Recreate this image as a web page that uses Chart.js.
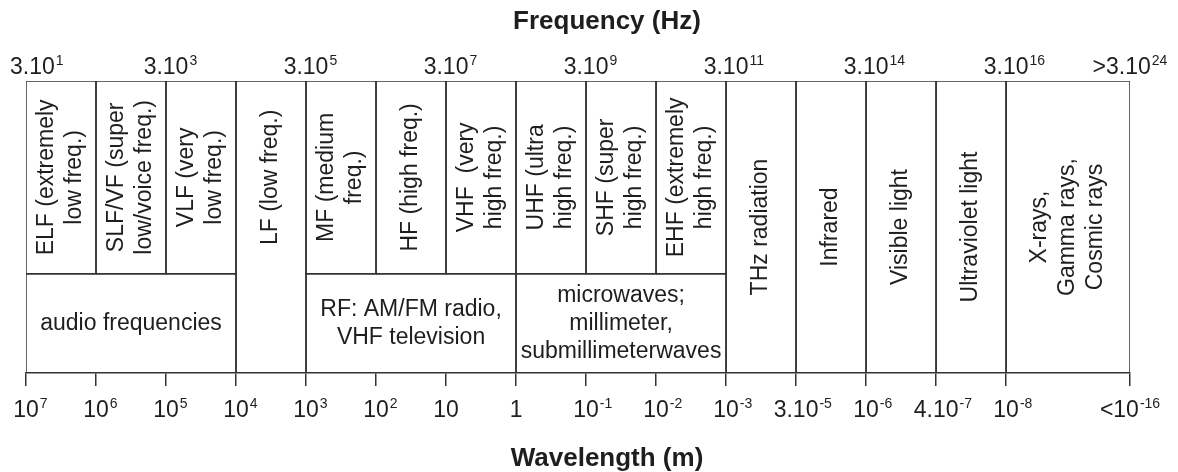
<!DOCTYPE html>
<html>
<head>
<meta charset="utf-8">
<title>Electromagnetic spectrum</title>
<script src="https://cdn.jsdelivr.net/npm/chart.js@4.4.1/dist/chart.umd.min.js"></script>
<style>
  html,body{margin:0;padding:0;background:#fff}
  canvas{display:block}
</style>
</head>
<body>
<canvas id="chart" width="1178" height="472"></canvas>
<script>
'use strict';

// band edges on the schematic axis: one step per band, the last band is wider
const edges = [0,1,2,3,4,5,6,7,8,9,10,11,12,13,14,15.77];

// frequency labels (top) sit on these edges
const freqEdges  = [0,2,4,6,8,10,12,14,15];
const freqLabels = ['3.10^1','3.10^3','3.10^5','3.10^7','3.10^9','3.10^11','3.10^14','3.10^16','>3.10^24'];

// wavelength labels (bottom), one per edge
const waveLabels = ['10^7','10^6','10^5','10^4','10^3','10^2','10','1','10^-1','10^-2','10^-3','3.10^-5','10^-6','4.10^-7','10^-8','<10^-16'];

const bandNames = [
  ['ELF (extremely','low freq.)'],
  ['SLF/VF (super','low/voice freq.)'],
  ['VLF (very','low freq.)'],
  ['LF (low freq.)'],
  ['MF (medium','freq.)'],
  ['HF (high freq.)'],
  ['VHF  (very','high freq.)'],
  ['UHF (ultra','high freq.)'],
  ['SHF (super','high freq.)'],
  ['EHF (extremely','high freq.)'],
  ['THz radiation'],
  ['Infrared'],
  ['Visible light'],
  ['Ultraviolet light'],
  ['X-rays,','Gamma rays,','Cosmic rays']
];
// 'upper' = only the upper tier, 'full' = whole height
const bandTier = ['upper','upper','upper','full','upper','upper','upper','upper','upper','upper','full','full','full','full','full'];

// lower tier groups, spanning edge indices
const groupNames = [
  ['audio frequencies'],
  ['RF: AM/FM radio,','VHF television'],
  ['microwaves;','millimeter,','submillimeterwaves']
];
const groupFrom = [0,4,7];
const groupTo   = [3,7,10];

// ---- layout / style ----
const TIER = {bottom:0, split:34, top:100};
const LINE = '#333';
const INK = '#1e1e1e';
const FAMILY = '"Liberation Sans", Arial, Helvetica, sans-serif';
const mainFont = '23px ' + FAMILY;
const supFont = '14px ' + FAMILY;
const titleFont = 'bold 26px ' + FAMILY;
const LH = 28;

function rect(x0,x1,y0,y1){
  return [{x:x0,y:y0},{x:x0,y:y1},{x:x1,y:y1},{x:x1,y:y0},{x:x0,y:y0}];
}
function boxSet(pts){
  return {data:pts, showLine:true, borderColor:LINE, borderWidth:1.5, pointRadius:0, pointHoverRadius:0, fill:false, tension:0};
}

const datasets = [];
bandNames.forEach((n,i)=>{
  const y0 = bandTier[i]==='full' ? TIER.bottom : TIER.split;
  datasets.push(boxSet(rect(edges[i],edges[i+1],y0,TIER.top)));
});
groupNames.forEach((n,i)=>{
  datasets.push(boxSet(rect(edges[groupFrom[i]],edges[groupTo[i]],TIER.bottom,TIER.split)));
});

function powerLabel(ctx,text,px,baseline,whole){
  const [base,exp] = text.split('^');
  ctx.font = mainFont;
  const wb = ctx.measureText(base).width;
  let we = 0;
  if(exp){ ctx.font = supFont; we = ctx.measureText(exp).width+1; }
  const start = Math.max(10, whole ? px-(wb+we)/2 : px-wb/2);
  ctx.textAlign='left'; ctx.textBaseline='alphabetic';
  ctx.font = mainFont; ctx.fillText(base,start,baseline);
  if(exp){ ctx.font = supFont; ctx.fillText(exp,start+wb+1,baseline-9); }
}

const textPlugin = {
  id:'spectrumText',
  afterDatasetsDraw(chart){
    const {ctx, chartArea:a, scales:{x,y}} = chart;
    ctx.save();
    ctx.fillStyle = INK;
    const upperMid = y.getPixelForValue((TIER.split+TIER.top)/2);
    const fullMid = y.getPixelForValue((TIER.bottom+TIER.top)/2);
    const lowerMid = y.getPixelForValue((TIER.bottom+TIER.split)/2);

    // rotated band names
    bandNames.forEach((lines,i)=>{
      const cx = (x.getPixelForValue(edges[i])+x.getPixelForValue(edges[i+1]))/2;
      const cy = (bandTier[i]==='upper' || i<10) ? upperMid : fullMid;
      ctx.save();
      ctx.translate(cx,cy);
      ctx.rotate(-Math.PI/2);
      ctx.font = mainFont; ctx.textAlign='center'; ctx.textBaseline='middle';
      lines.forEach((t,k)=>ctx.fillText(t,0,(k-(lines.length-1)/2)*LH));
      ctx.restore();
    });

    // lower tier group names
    groupNames.forEach((lines,i)=>{
      const cx = (x.getPixelForValue(edges[groupFrom[i]])+x.getPixelForValue(edges[groupTo[i]]))/2;
      ctx.font = mainFont; ctx.textAlign='center'; ctx.textBaseline='middle';
      lines.forEach((t,k)=>ctx.fillText(t,cx,lowerMid+(k-(lines.length-1)/2)*LH));
    });

    // frequency labels
    freqLabels.forEach((t,i)=>{
      powerLabel(ctx,t,x.getPixelForValue(edges[freqEdges[i]]),a.top-7,i===freqLabels.length-1);
    });
    // wavelength labels
    waveLabels.forEach((t,i)=>{
      powerLabel(ctx,t,x.getPixelForValue(edges[i]),a.bottom+44,i===waveLabels.length-1);
    });

    // axis titles
    const mid = (a.left+a.right)/2 + 29;
    ctx.font = titleFont; ctx.textAlign='center'; ctx.textBaseline='alphabetic';
    ctx.fillText('Frequency (Hz)',mid,a.top-52);
    ctx.fillText('Wavelength (m)',mid,a.bottom+93);
    ctx.restore();
  }
};

new Chart(document.getElementById('chart'),{
  type:'scatter',
  data:{datasets},
  plugins:[textPlugin],
  options:{
    responsive:false,
    animation:false,
    layout:{padding:{top:81,left:26,right:48,bottom:86}},
    plugins:{legend:{display:false},tooltip:{enabled:false}},
    events:[],
    scales:{
      x:{
        type:'linear', min:edges[0], max:edges[edges.length-1],
        afterBuildTicks:s=>{ s.ticks = edges.map(v=>({value:v})); },
        ticks:{display:false},
        grid:{drawOnChartArea:false, drawTicks:true, tickLength:13, color:LINE, lineWidth:1.5},
        border:{display:true, color:LINE, width:1.5}
      },
      y:{
        type:'linear', min:TIER.bottom, max:TIER.top, display:false
      }
    }
  }
});
</script>
</body>
</html>
